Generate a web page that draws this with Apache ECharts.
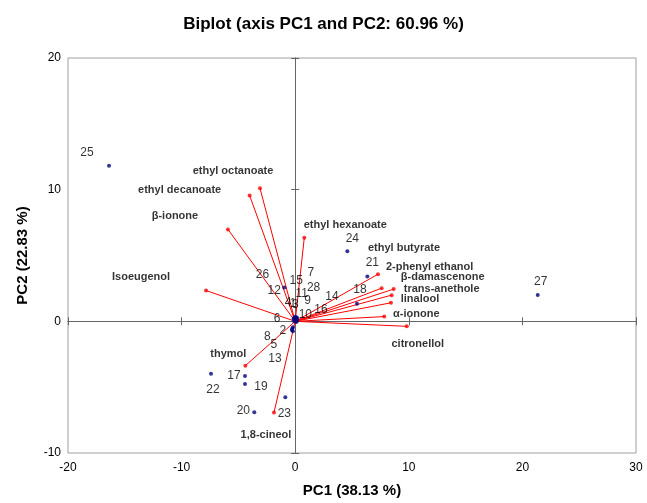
<!DOCTYPE html>
<html>
<head>
<meta charset="utf-8">
<script src="https://cdn.jsdelivr.net/npm/echarts@6/dist/echarts.min.js"></script>
<style>
  html, body { margin: 0; padding: 0; background: #fff; }
  #box { width: 647px; height: 503px; }
</style>
</head>
<body>
<div id="box"></div>
<script>
// observations (blue points)
const obsNames = ['1', '2', '3', '4', '5', '6', '7', '8', '9', '10', '11', '12', '13', '14',
  '15', '16', '17', '18', '19', '20', '21', '22', '23', '24', '25', '26', '27', '28'];
const obsPC1 = [0.05, -0.2, 0.1, -0.1, -0.3, -0.1, 0.15, -0.25, 0.12, 0.1, 0.05, -0.96, -0.2, 0.15,
  0.0, 0.15, -4.42, 5.44, -4.42, -3.60, 6.35, -7.41, -0.87, 4.59, -16.39, -0.15, 21.35, 0.12];
const obsPC2 = [0.25, -0.45, 0.2, 0.25, -0.65, 0.0, 0.3, -0.55, 0.15, -0.05, 0.3, 2.57, -0.75, 0.1,
  0.35, 0.0, -4.16, 1.34, -4.76, -6.90, 3.40, -3.98, -5.77, 5.32, 11.82, 0.2, 2.00, 0.25];

// variables (red vectors)
const varNames = ['ethyl octanoate', 'ethyl decanoate', 'β-ionone', 'Isoeugenol', 'ethyl hexanoate',
  'ethyl butyrate', '2-phenyl ethanol', 'β-damascenone', 'trans-anethole', 'linalool',
  'α-ionone', 'citronellol', 'thymol', '1,8-cineol'];
const varPC1 = [-3.10, -4.01, -5.92, -7.85, 0.80, 7.29, 7.61, 8.67, 8.49, 8.43, 7.84, 9.82, -4.39, -1.87];
const varPC2 = [10.11, 9.55, 6.98, 2.34, 6.35, 3.58, 2.52, 2.45, 1.99, 1.41, 0.36, -0.38, -3.37, -6.93];

// label placement (pixel offsets from the point)
const obsLabelOffsets = [[-3, -14], [-10, 3], [-1, -14], [-6, -15], [-18, 15], [-17, -3], [14, -45],
  [-25, 8], [11, -19], [9, -7], [6, -24], [-10, 3], [-18, 27], [35, -23], [1, -36], [24, -12],
  [-11, 0], [3, -14], [16, 3], [-11, -1], [5, -14], [2, 16], [-1, 16], [5, -13], [-22, -13],
  [-31, -44], [3, -13], [17, -30]];
const varLabelOffsets = [[-27, -17], [-70, -6], [-53, -13], [-65, -14], [41, -13], [26, -26],
  [48, -21], [49, -12], [50, -6], [29, -4], [32, -3], [11, 18], [-17, -12], [-8, 22]];

const font = 'Liberation Sans, Arial, sans-serif';

const chart = echarts.init(document.getElementById('box'));

const baseX = { type: 'value', min: -20, max: 30, interval: 10, splitLine: { show: false } };
const baseY = { type: 'value', min: -10, max: 20, interval: 10, splitLine: { show: false } };

// zero-line axes carry the crossing ticks
function zeroAxis(base, inside) {
  return Object.assign({}, base, {
    axisLine: { show: true, onZero: true, onZeroAxisIndex: 0, lineStyle: { color: '#666', width: 1 } },
    axisTick: { show: true, inside: inside, length: 4, lineStyle: { color: '#666' } },
    axisLabel: { show: false }
  });
}

const option = {
  animation: false,
  title: {
    text: 'Biplot (axis PC1 and PC2: 60.96 %)',
    left: 'center',
    top: 11,
    textStyle: { fontFamily: font, fontSize: 17, fontWeight: 'bold', color: '#000' }
  },
  grid: {
    left: 68, right: 11, top: 58, bottom: 48,
    show: true, borderColor: '#a0a0a0', borderWidth: 1
  },
  xAxis: [
    Object.assign({}, baseX, {
      position: 'bottom',
      axisLine: { show: false, onZero: false },
      axisTick: { show: false },
      axisLabel: { fontFamily: font, fontSize: 12, color: '#000', margin: 9 },
      name: 'PC1 (38.13 %)',
      nameLocation: 'middle',
      nameGap: 30,
      nameTextStyle: { fontFamily: font, fontSize: 15, fontWeight: 'bold', color: '#000' }
    }),
    zeroAxis(baseX, true),
    zeroAxis(baseX, false)
  ],
  yAxis: [
    Object.assign({}, baseY, {
      position: 'left',
      axisLine: { show: false, onZero: false },
      axisTick: { show: false },
      axisLabel: { fontFamily: font, fontSize: 12, color: '#000', margin: 7 },
      name: 'PC2 (22.83 %)',
      nameLocation: 'middle',
      nameGap: 38,
      nameTextStyle: { fontFamily: font, fontSize: 15, fontWeight: 'bold', color: '#000' }
    }),
    zeroAxis(baseY, true),
    zeroAxis(baseY, false)
  ],
  series: [
    {
      type: 'lines',
      coordinateSystem: 'cartesian2d',
      silent: true,
      lineStyle: { color: '#ff0000', width: 1, opacity: 1 },
      data: varPC1.map((x, i) => ({ coords: [[0, 0], [x, varPC2[i]]] }))
    },
    {
      type: 'scatter',
      symbolSize: 4,
      itemStyle: { color: '#ff0000' },
      data: varPC1.map((x, i) => ({
        value: [x, varPC2[i]],
        name: varNames[i],
        label: {
          show: true,
          position: 'inside',
          offset: varLabelOffsets[i],
          formatter: varNames[i],
          fontFamily: font,
          fontSize: 11,
          fontWeight: 'bold',
          color: '#000'
        }
      }))
    },
    {
      type: 'scatter',
      symbolSize: 4,
      itemStyle: { color: '#000080' },
      data: obsPC1.map((x, i) => ({
        value: [x, obsPC2[i]],
        name: obsNames[i],
        label: {
          show: true,
          position: 'inside',
          offset: obsLabelOffsets[i],
          formatter: obsNames[i],
          fontFamily: font,
          fontSize: 12,
          color: '#000'
        }
      }))
    }
  ]
};

chart.setOption(option);
</script>
</body>
</html>
